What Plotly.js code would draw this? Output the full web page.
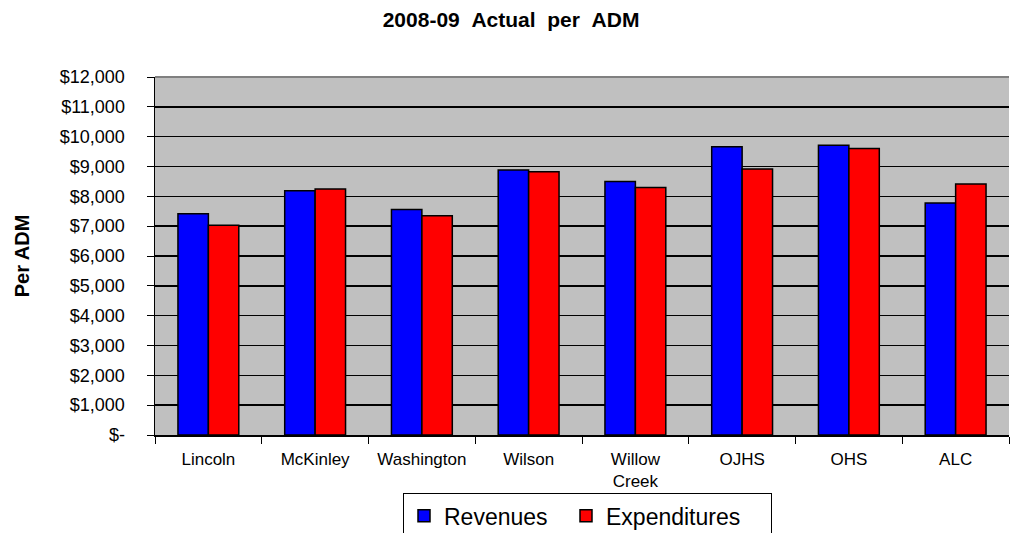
<!DOCTYPE html>
<html>
<head>
<meta charset="utf-8">
<script src="https://cdn.plot.ly/plotly-3.0.1.min.js"></script>
<style>html,body{margin:0;padding:0;background:#fff;}#chart{width:1010px;height:533px;}</style>
</head>
<body>
<div id="chart"></div>
<script>
const categories = ["Lincoln", "McKinley", "Washington", "Wilson", "Willow<br>Creek", "OJHS", "OHS", "ALC"];
const revenues = [7420, 8190, 7560, 8880, 8500, 9660, 9710, 7780];
const expenditures = [7030, 8250, 7350, 8820, 8300, 8920, 9600, 8410];
const yTickVals = [0, 1000, 2000, 3000, 4000, 5000, 6000, 7000, 8000, 9000, 10000, 11000, 12000];
const yTickText = ["$-", "$1,000", "$2,000", "$3,000", "$4,000", "$5,000", "$6,000", "$7,000", "$8,000", "$9,000", "$10,000", "$11,000", "$12,000"];

const font = "Liberation Sans, Arial, sans-serif";
const data = [
  {type: "bar", name: "Revenues", x: categories, y: revenues, legendwidth: 117,
   marker: {color: "#0000FF", line: {color: "#000000", width: 1.5}}},
  {type: "bar", name: "Expenditures", x: categories, y: expenditures, legendwidth: 160,
   marker: {color: "#FF0000", line: {color: "#000000", width: 1.5}}}
];
const layout = {
  width: 1010, height: 533,
  margin: {l: 155, r: 1, t: 77, b: 98, autoexpand: false},
  paper_bgcolor: "#FFFFFF",
  plot_bgcolor: "#C0C0C0",
  barmode: "group", bargap: 0.43, bargroupgap: 0,
  font: {family: font, color: "#000000"},
  title: {text: "<b>2008-09&nbsp;&nbsp;Actual&nbsp;&nbsp;per&nbsp;&nbsp;ADM</b>", font: {family: font, size: 21, color: "#000"},
          x: 0.506, xref: "container", y: 0.964, yref: "container", yanchor: "middle"},
  xaxis: {type: "category", showline: true, linecolor: "#000", linewidth: 1.5,
          mirror: false, ticks: "outside", tickson: "boundaries", ticklen: 7, tickcolor: "#000", tickwidth: 1,
          tickfont: {family: font, size: 17, color: "#000"}, ticklabelstandoff: 8,
          showgrid: false, fixedrange: true},
  yaxis: {range: [0, 12000], tickvals: yTickVals, ticktext: yTickText,
          showline: true, linecolor: "#000", linewidth: 1.5,
          ticks: "outside", ticklen: 7, tickcolor: "#000", tickwidth: 1,
          tickfont: {family: font, size: 18, color: "#000"}, ticklabelstandoff: 18,
          showgrid: true, gridcolor: "#000000", gridwidth: 1.5, zeroline: false,
          title: {text: "<b>Per ADM</b>", font: {family: font, size: 20, color: "#000"}, standoff: 25}},
  shapes: [{type: "line", xref: "paper", yref: "paper", x0: 0, x1: 1, y0: 1, y1: 1,
            line: {color: "#808080", width: 2}}],
  showlegend: true,
  legend: {orientation: "h", x: 0.2904, xanchor: "left", y: -0.163, yanchor: "top",
           bordercolor: "#000", borderwidth: 1, bgcolor: "#FFFFFF",
           font: {family: font, size: 23, color: "#000"}, traceorder: "normal"}
};
Plotly.newPlot("chart", data, layout, {staticPlot: true, displayModeBar: false});
</script>
</body>
</html>
